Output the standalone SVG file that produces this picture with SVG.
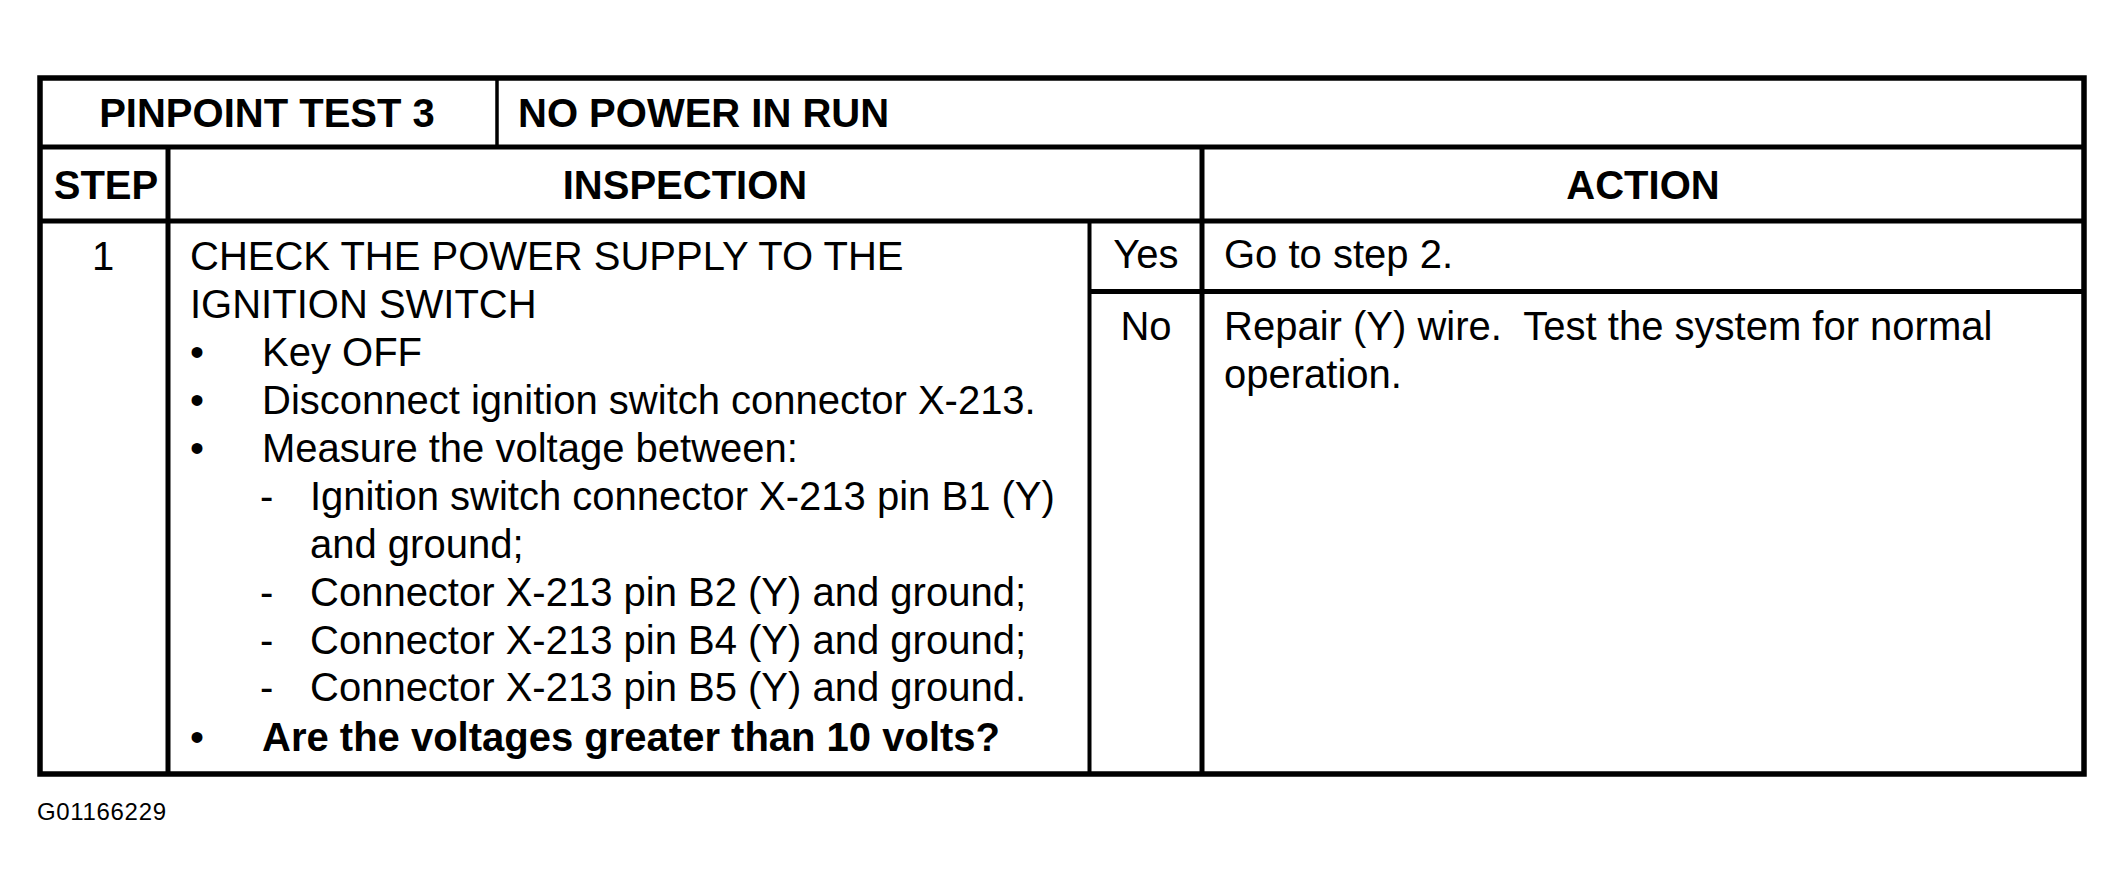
<svg xmlns="http://www.w3.org/2000/svg" width="2124" height="896" viewBox="0 0 2124 896">
  <style>
    .ln { stroke:#000; fill:none; }
    .t { font-family:"Liberation Sans", Arial, Helvetica, sans-serif; font-size:40px; fill:#000; }
    .b { font-family:"Liberation Sans", Arial, Helvetica, sans-serif; font-size:40px; font-weight:bold; fill:#000; }
    .c { text-anchor:middle; }
    .s { font-family:"Liberation Sans", Arial, Helvetica, sans-serif; font-size:24px; fill:#000; }
  </style>
  <rect x="0" y="0" width="2124" height="896" fill="#fff"/>

  <g id="grid">
    <rect class="ln" x="40" y="78" width="2044" height="696" stroke-width="5.5"/>
    <line class="ln" x1="40" y1="147" x2="2084" y2="147" stroke-width="5"/>
    <line class="ln" x1="40" y1="221" x2="2084" y2="221" stroke-width="5"/>
    <line class="ln" x1="497" y1="78" x2="497" y2="147" stroke-width="3.5"/>
    <line class="ln" x1="168" y1="147" x2="168" y2="774" stroke-width="5"/>
    <line class="ln" x1="1202" y1="147" x2="1202" y2="774" stroke-width="5"/>
    <line class="ln" x1="1089.5" y1="221" x2="1089.5" y2="774" stroke-width="4"/>
    <line class="ln" x1="1089.5" y1="291.5" x2="2084" y2="291.5" stroke-width="5"/>
  </g>

  <g id="title">
    <text class="b c" x="267" y="127">PINPOINT TEST 3</text>
    <text class="b" x="518" y="127">NO POWER IN RUN</text>
  </g>

  <g id="header">
    <text class="b c" x="106" y="199">STEP</text>
    <text class="b c" x="685" y="199">INSPECTION</text>
    <text class="b c" x="1643" y="199">ACTION</text>
  </g>

  <g id="step1">
    <text class="t c" x="103" y="270">1</text>
  </g>

  <g id="inspection">
    <text class="t" x="190" y="270">CHECK THE POWER SUPPLY TO THE</text>
    <text class="t" x="190" y="318">IGNITION SWITCH</text>
    <text class="t" x="190" y="366">•</text>
    <text class="t" x="262" y="366">Key OFF</text>
    <text class="t" x="190" y="414">•</text>
    <text class="t" x="262" y="414">Disconnect ignition switch connector X-213.</text>
    <text class="t" x="190" y="462">•</text>
    <text class="t" x="262" y="462">Measure the voltage between:</text>
    <text class="t" x="260" y="510">-</text>
    <text class="t" x="310" y="510">Ignition switch connector X-213 pin B1 (Y)</text>
    <text class="t" x="310" y="558">and ground;</text>
    <text class="t" x="260" y="606">-</text>
    <text class="t" x="310" y="606">Connector X-213 pin B2 (Y) and ground;</text>
    <text class="t" x="260" y="654">-</text>
    <text class="t" x="310" y="654">Connector X-213 pin B4 (Y) and ground;</text>
    <text class="t" x="260" y="701">-</text>
    <text class="t" x="310" y="701">Connector X-213 pin B5 (Y) and ground.</text>
    <text class="t" x="190" y="751">•</text>
    <text class="b" x="262" y="751">Are the voltages greater than 10 volts?</text>
  </g>

  <g id="yes">
    <text class="t c" x="1146" y="268">Yes</text>
    <text class="t" x="1224" y="268">Go to step 2.</text>
  </g>

  <g id="no">
    <text class="t c" x="1146" y="340">No</text>
    <text class="t" x="1224" y="340" xml:space="preserve">Repair (Y) wire.  Test the system for normal</text>
    <text class="t" x="1224" y="388">operation.</text>
  </g>

  <g id="connectors"></g>

  <text class="s" x="37" y="820" textLength="129" lengthAdjust="spacing">G01166229</text>
</svg>
